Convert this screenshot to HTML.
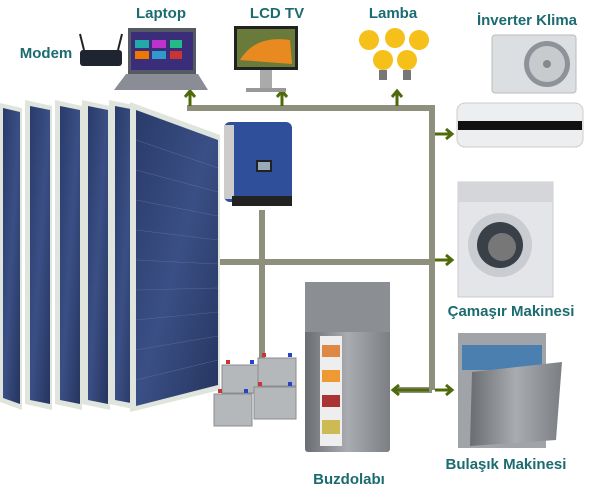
<!DOCTYPE html>
<html><head><meta charset="utf-8"><style>
html,body{margin:0;padding:0;background:#fff;width:600px;height:493px;overflow:hidden}
svg{display:block}
text{font-family:"Liberation Sans",sans-serif;font-weight:bold;fill:#1b6b70;font-size:15px}
</style></head><body>
<svg width="600" height="493" viewBox="0 0 600 493" xmlns="http://www.w3.org/2000/svg">
<defs>
<linearGradient id="pv" x1="0" y1="0" x2="1" y2="1"><stop offset="0" stop-color="#2a3b6a"/><stop offset="0.5" stop-color="#3a4f85"/><stop offset="1" stop-color="#26355f"/></linearGradient>
<linearGradient id="steel" x1="0" y1="0" x2="1" y2="0"><stop offset="0" stop-color="#6a6d72"/><stop offset="0.5" stop-color="#a9acb1"/><stop offset="1" stop-color="#7b7e83"/></linearGradient>
</defs>
<g>
<polygon points="0,103 22,108 22,410 0,402" fill="#dfe5dc"/><polygon points="3,108 20,112 20,404 3,398" fill="url(#pv)"/>
<polygon points="25,100 52,106 52,410 25,404" fill="#dfe5dc"/><polygon points="30,106 50,110 50,404 30,400" fill="url(#pv)"/>
<polygon points="55,100 82,106 82,410 55,404" fill="#dfe5dc"/><polygon points="60,106 80,110 80,404 60,400" fill="url(#pv)"/>
<polygon points="82,100 110,106 110,410 82,404" fill="#dfe5dc"/><polygon points="88,106 108,110 108,404 88,400" fill="url(#pv)"/>
<polygon points="109,100 138,106 138,410 109,404" fill="#dfe5dc"/><polygon points="115,106 136,110 136,404 115,400" fill="url(#pv)"/>
<polygon points="130,102 220,135 220,390 130,412" fill="#dfe5dc"/><polygon points="136,110 218,140 218,385 136,406" fill="url(#pv)"/>
<g stroke="#6d7fa8" stroke-width="0.6" opacity="0.6">
<line x1="136" y1="140" x2="218" y2="168"/><line x1="136" y1="170" x2="218" y2="192"/><line x1="136" y1="200" x2="218" y2="216"/><line x1="136" y1="230" x2="218" y2="240"/><line x1="136" y1="260" x2="218" y2="264"/><line x1="136" y1="290" x2="218" y2="288"/><line x1="136" y1="320" x2="218" y2="312"/><line x1="136" y1="350" x2="218" y2="336"/><line x1="136" y1="380" x2="218" y2="360"/>
</g>
</g>
<g stroke="#8e8f7c" stroke-width="6" fill="none">
<path d="M187,108 H432 V390"/>
<path d="M220,262 H432"/>
<path d="M262,210 V360"/>
<path d="M395,390 H432"/>
</g>
<g stroke="#4f6a0a" stroke-width="3" fill="none">
<path d="M190,106 V92"/><path d="M185,97 L190,91 L195,97"/>
<path d="M282,106 V92"/><path d="M277,97 L282,91 L287,97"/>
<path d="M397,106 V92"/><path d="M392,97 L397,91 L402,97"/>
<path d="M435,134 H452"/><path d="M446,129 L452,134 L446,139"/>
<path d="M435,260 H452"/><path d="M446,255 L452,260 L446,265"/>
<path d="M435,390 H452"/><path d="M446,385 L452,390 L446,395"/>
<path d="M429,390 H393"/><path d="M399,385 L393,390 L399,395"/>
</g>
<rect x="224" y="122" width="68" height="80" rx="6" fill="#2f4f9a"/>
<rect x="224" y="125" width="10" height="74" fill="#ccc"/>
<rect x="256" y="160" width="16" height="12" fill="#222"/><rect x="258" y="162" width="12" height="8" fill="#9ab"/>
<rect x="232" y="196" width="60" height="10" fill="#222"/>
<g fill="#b5b8ba" stroke="#8a8d90">
<rect x="222" y="365" width="36" height="28"/><rect x="258" y="358" width="38" height="28"/>
<rect x="214" y="394" width="38" height="32"/><rect x="254" y="387" width="42" height="32"/>
</g>
<g fill="#c33"><rect x="226" y="360" width="4" height="4"/><rect x="262" y="353" width="4" height="4"/><rect x="218" y="389" width="4" height="4"/><rect x="258" y="382" width="4" height="4"/></g>
<g fill="#24c"><rect x="250" y="360" width="4" height="4"/><rect x="288" y="353" width="4" height="4"/><rect x="244" y="389" width="4" height="4"/><rect x="288" y="382" width="4" height="4"/></g>
<rect x="80" y="50" width="42" height="16" rx="3" fill="#1e2430"/>
<line x1="84" y1="50" x2="80" y2="34" stroke="#222" stroke-width="2"/><line x1="118" y1="50" x2="122" y2="34" stroke="#222" stroke-width="2"/>
<rect x="128" y="28" width="68" height="46" fill="#555a63"/>
<rect x="131" y="32" width="62" height="38" fill="#3a2e7a"/>
<rect x="135" y="40" width="14" height="8" fill="#2aa"/><rect x="152" y="40" width="14" height="8" fill="#b3c"/><rect x="170" y="40" width="12" height="8" fill="#2b8"/>
<rect x="135" y="51" width="14" height="8" fill="#e70"/><rect x="152" y="51" width="14" height="8" fill="#39c"/><rect x="170" y="51" width="12" height="8" fill="#c33"/>
<polygon points="126,74 198,74 208,90 114,90" fill="#8a8d96"/>
<rect x="234" y="26" width="64" height="44" fill="#222"/>
<rect x="237" y="29" width="58" height="38" fill="#6a7a3a"/>
<path d="M240,60 Q255,35 290,40 L292,64 Z" fill="#e88a20"/>
<rect x="260" y="70" width="12" height="18" fill="#aaa"/><rect x="246" y="88" width="40" height="4" fill="#999"/>
<g fill="#f5c01a">
<circle cx="369" cy="40" r="10"/><circle cx="395" cy="38" r="10"/><circle cx="419" cy="40" r="10"/>
<circle cx="383" cy="60" r="10"/><circle cx="407" cy="60" r="10"/>
</g>
<g fill="#777"><rect x="379" y="70" width="8" height="10"/><rect x="403" y="70" width="8" height="10"/></g>
<rect x="492" y="35" width="84" height="58" rx="3" fill="#dcdfe2" stroke="#bbb"/>
<circle cx="547" cy="64" r="23" fill="#8f9399"/><circle cx="547" cy="64" r="18" fill="#c8cbce"/><circle cx="547" cy="64" r="4" fill="#888"/>
<rect x="457" y="103" width="126" height="44" rx="8" fill="#eceef0" stroke="#ccc"/>
<rect x="458" y="121" width="124" height="9" fill="#111"/>
<rect x="458" y="182" width="95" height="115" fill="#e3e5e8" stroke="#ccc"/>
<rect x="458" y="182" width="95" height="20" fill="#d4d6d9"/>
<circle cx="500" cy="245" r="32" fill="#c9ccd0"/><circle cx="500" cy="245" r="23" fill="#3a4048"/><circle cx="502" cy="247" r="14" fill="#777"/>
<rect x="458" y="333" width="88" height="115" fill="#a0a3a7"/>
<rect x="462" y="345" width="80" height="25" fill="#4a7fb0"/>
<polygon points="472,372 562,362 556,440 470,446" fill="url(#steel)"/>
<rect x="305" y="282" width="85" height="170" rx="3" fill="url(#steel)"/>
<rect x="305" y="282" width="85" height="50" fill="#8b8e93"/>
<rect x="320" y="336" width="22" height="110" fill="#eee"/>
<rect x="322" y="345" width="18" height="12" fill="#d84"/><rect x="322" y="370" width="18" height="12" fill="#e93"/><rect x="322" y="395" width="18" height="12" fill="#a33"/><rect x="322" y="420" width="18" height="14" fill="#cb5"/>
<text x="161" y="18" text-anchor="middle">Laptop</text>
<text x="277" y="18" text-anchor="middle">LCD TV</text>
<text x="393" y="18" text-anchor="middle">Lamba</text>
<text x="527" y="25" text-anchor="middle">İnverter Klima</text>
<text x="46" y="58" text-anchor="middle">Modem</text>
<text x="511" y="316" text-anchor="middle">Çamaşır Makinesi</text>
<text x="506" y="469" text-anchor="middle">Bulaşık Makinesi</text>
<text x="349" y="484" text-anchor="middle">Buzdolabı</text>
</svg>
</body></html>
